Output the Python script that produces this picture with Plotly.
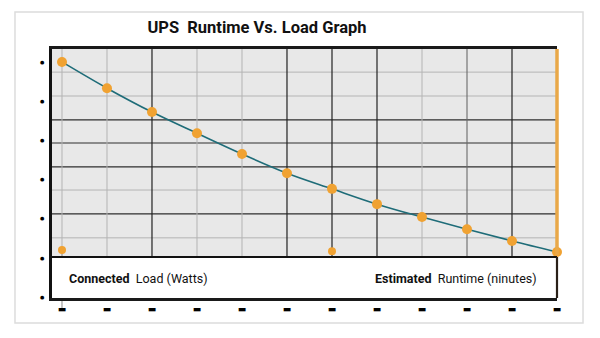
import plotly.graph_objects as go

# ---- data ----
load_idx = list(range(12))
runtime = [60.0, 53.3, 47.2, 41.8, 36.5, 31.6, 27.6, 23.7, 20.4, 17.3, 14.3, 11.5]
extra_x = [0, 6]
extra_y = [12.0, 11.7]
y_ticks = [0, 10, 20, 30, 40, 50, 60]
y_tick_text = ["●"] * len(y_ticks)
x_tick_text = ["▬"] * len(load_idx)

# grid lines (layout)
h_light = [57.4, 51.3, 27.3, 15.1]
h_dark = [45.2, 39.3, 33.2, 21.2]
v_light = [0, 1, 3, 4, 8]
v_mid = [9]
v_dark = [2, 5, 6, 7, 10]

X0, X1 = -0.222, 11
Y0, Y1 = -0.26, 63.3
BOX_TOP = 10.2

fig = go.Figure()

shapes = []
for v in h_light:
    shapes.append(dict(type="line", xref="x", yref="y", x0=X0, x1=X1, y0=v, y1=v,
                       line=dict(color="#b4b4b4", width=1), layer="below"))
for v in h_dark:
    shapes.append(dict(type="line", xref="x", yref="y", x0=X0, x1=X1, y0=v, y1=v,
                       line=dict(color="#2e2e2e", width=1.2), layer="below"))
for v in v_light:
    shapes.append(dict(type="line", xref="x", yref="y", x0=v, x1=v, y0=BOX_TOP, y1=Y1,
                       line=dict(color="#b4b4b4", width=1), layer="below"))
for v in v_mid:
    shapes.append(dict(type="line", xref="x", yref="y", x0=v, x1=v, y0=BOX_TOP, y1=Y1,
                       line=dict(color="#6a6a6a", width=1.1), layer="below"))
for v in v_dark:
    shapes.append(dict(type="line", xref="x", yref="y", x0=v, x1=v, y0=BOX_TOP, y1=Y1,
                       line=dict(color="#222222", width=1.2), layer="below"))
# white label box
shapes.append(dict(type="rect", xref="x", yref="y", x0=X0, x1=X1, y0=Y0, y1=BOX_TOP,
                   fillcolor="white", line=dict(width=0), layer="below"))
shapes.append(dict(type="line", xref="x", yref="y", x0=X0, x1=X1, y0=BOX_TOP, y1=BOX_TOP,
                   line=dict(color="#111111", width=2.2), layer="above"))
# right border of the label box
shapes.append(dict(type="line", xref="paper", yref="y", x0=1, x1=1, y0=Y0, y1=BOX_TOP,
                   line=dict(color="#2a2018", width=2.2), layer="above"))
# gray line at first load position through the box
shapes.append(dict(type="line", xref="x", yref="paper", x0=0, x1=0, y0=-0.04, y1=0.2,
                   line=dict(color="#8a8a8a", width=1), layer="below"))
# orange right edge
shapes.append(dict(type="line", xref="paper", yref="y", x0=1, x1=1, y0=BOX_TOP + 0.4, y1=Y1,
                   line=dict(color="#e9a848", width=3.5), layer="above"))
# outer light frame
shapes.append(dict(type="rect", xref="paper", yref="paper", x0=-0.0733, x1=1.0515,
                   y0=-0.1004, y1=1.1486, line=dict(color="#dcdcdc", width=1.5),
                   fillcolor="rgba(0,0,0,0)", layer="below"))

fig.add_trace(go.Scatter(
    x=load_idx, y=runtime, mode="lines+markers",
    line=dict(color="#1e6c78", width=1.6, shape="spline"),
    marker=dict(color="#f0a232", size=10),
    cliponaxis=False, hoverinfo="skip", showlegend=False))
fig.add_trace(go.Scatter(
    x=extra_x, y=extra_y, mode="markers",
    marker=dict(color="#f0a232", size=8),
    cliponaxis=False, hoverinfo="skip", showlegend=False))

fig.update_layout(
    width=600, height=338,
    margin=dict(l=52, r=43, t=49, b=40),
    paper_bgcolor="white", plot_bgcolor="#e8e8e8",
    shapes=shapes,
    title=dict(text="<b>UPS  Runtime Vs. Load Graph</b>", x=257 / 600, xanchor="center",
               y=1 - 27 / 338, yanchor="middle", xref="container", yref="container",
               font=dict(family="Roboto", size=16.5, color="#111111")),
    xaxis=dict(range=[X0, X1], tickvals=load_idx, ticktext=x_tick_text, showgrid=False,
               zeroline=False, showline=True, linecolor="#1a1a1a", linewidth=2.5, mirror=True,
               ticks="", tickfont=dict(size=9, color="black", family="DejaVu Sans")),
    yaxis=dict(range=[Y0, Y1], tickvals=y_ticks, ticktext=y_tick_text, showgrid=False,
               zeroline=False, showline=True, linecolor="#111111", linewidth=2.5, mirror=False,
               ticks="", ticklabelstandoff=4,
               tickfont=dict(size=5, color="black", family="DejaVu Sans")),
    annotations=[
        dict(text="<b>Connected</b>  Load (Watts)", xref="paper", yref="paper",
             x=(67 - 52) / 505, y=(298 - 278) / 249, xanchor="left", yanchor="middle",
             showarrow=False, font=dict(family="Roboto", size=12.5, color="#111111")),
        dict(text="<b>Estimated</b>  Runtime (ninutes)", xref="paper", yref="paper",
             x=(373 - 52) / 505, y=(298 - 278) / 249, xanchor="left", yanchor="middle",
             showarrow=False, font=dict(family="Roboto", size=12.5, color="#111111")),
    ],
)

fig.write_html("out.html")
